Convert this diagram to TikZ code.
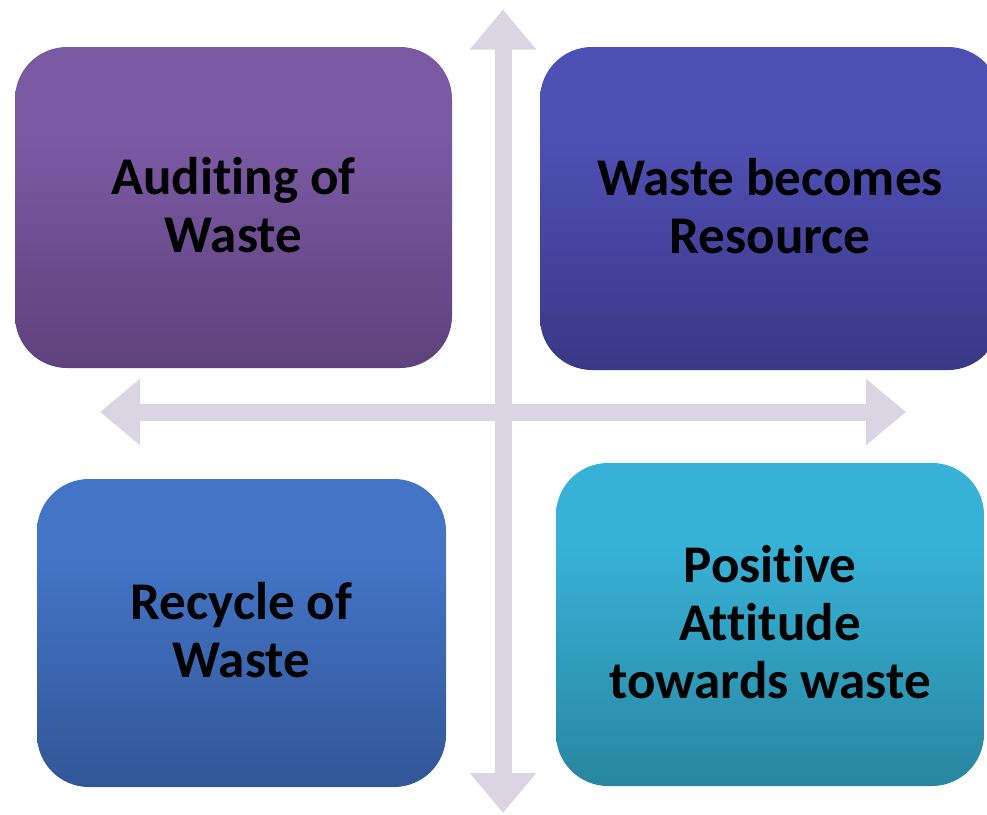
\documentclass[tikz,border=0pt]{standalone}
\usepackage{fontspec}
\setmainfont{Carlito}[Ligatures=NoCommon]
\usetikzlibrary{arrows.meta}
\definecolor{arrowc}{HTML}{D9D5E3}
\definecolor{tlTop}{HTML}{7B5AA4}
\definecolor{tlBot}{HTML}{5E427D}
\definecolor{trTop}{HTML}{4F50B5}
\definecolor{trBot}{HTML}{3B3786}
\definecolor{blTop}{HTML}{4374C6}
\definecolor{blBot}{HTML}{325697}
\definecolor{brTop}{HTML}{37B1D6}
\definecolor{brBot}{HTML}{2886A0}
\pgfdeclareverticalshading{tlsh}{100bp}{color(0bp)=(tlBot); color(25bp)=(tlBot); color(62bp)=(tlTop); color(100bp)=(tlTop)}
\pgfdeclareverticalshading{trsh}{100bp}{color(0bp)=(trBot); color(25bp)=(trBot); color(62bp)=(trTop); color(100bp)=(trTop)}
\pgfdeclareverticalshading{blsh}{100bp}{color(0bp)=(blBot); color(25bp)=(blBot); color(62bp)=(blTop); color(100bp)=(blTop)}
\pgfdeclareverticalshading{brsh}{100bp}{color(0bp)=(brBot); color(25bp)=(brBot); color(62bp)=(brTop); color(100bp)=(brTop)}
\tikzset{
  quadbox/.style={rectangle, rounded corners=52pt, inner sep=0pt, draw=none},
  quadtext/.style={align=center, inner sep=0pt, text=black,
    font=\fontsize{53}{58}\selectfont\bfseries},
  axisarrow/.style={draw=arrowc, line width=17pt,
    {Triangle[length=40pt,width=64pt]}-{Triangle[length=40pt,width=64pt]}}
}
\begin{document}
\begin{tikzpicture}[x=1pt,y=-1pt]
\useasboundingbox (0,0) rectangle (987,814);
% axes
\coordinate (vt) at (503,9.5);
\coordinate (vb) at (503,813);
\coordinate (hl) at (100,412);
\coordinate (hr) at (906,412);
\draw[axisarrow] (vt) -- (vb);
\draw[axisarrow] (hl) -- (hr);
% boxes
\node[quadbox, shading=tlsh, minimum width=437pt, minimum height=321pt] (A) at (233.5,207.5) {};
\node[quadbox, shading=trsh, minimum width=460pt, minimum height=323pt] (B) at (770,208.5) {};
\node[quadbox, shading=blsh, minimum width=409pt, minimum height=308pt] (C) at (241.5,633) {};
\node[quadbox, shading=brsh, minimum width=428pt, minimum height=323pt] (D) at (770,624.5) {};
% texts
\node[quadtext] (tA) at ([yshift=2pt]A.center) {Auditing of\\Waste};
\node[quadtext] (tB) at ([yshift=2pt]B.center) {Waste becomes\\Resource};
\node[quadtext] (tC) at ([yshift=3pt]C.center) {Recycle of\\Waste};
\node[quadtext] (tD) at ([yshift=2pt]D.center) {Positive\\Attitude\\towards waste};
\end{tikzpicture}
\end{document}
